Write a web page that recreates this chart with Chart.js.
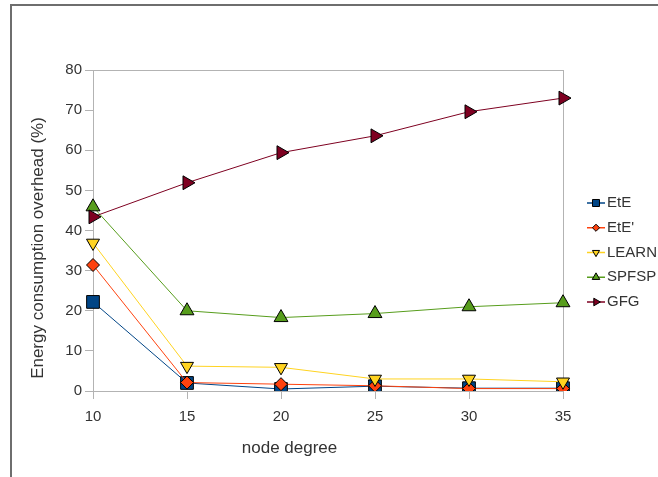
<!DOCTYPE html>
<html>
<head>
<meta charset="utf-8">
<script src="https://cdn.jsdelivr.net/npm/chart.js@4/dist/chart.umd.min.js"></script>
<style>
  body { margin: 0; background: #fff; }
  #wrap { position: relative; width: 658px; height: 477px; overflow: hidden; }
  #frame { position: absolute; left: 10px; top: 4px; width: 700px; height: 500px;
           border-left: 2px solid #6e6e6e; border-top: 2px solid #6e6e6e; }
  #chart { position: absolute; left: 0; top: 0; }
</style>
</head>
<body>
<div id="wrap">
  <div id="frame"></div>
  <canvas id="chart" width="658" height="477"></canvas>
</div>
<script>
// node degree on the x axis
const nodeDegree = ['10', '15', '20', '25', '30', '35']

// energy consumption overhead (%)
const ete      = [22.2, 2.0, 0.5, 1.2, 0.7, 0.7]
const etePrime = [31.4, 2.1, 1.7, 1.3, 0.6, 0.6]
const learn    = [36.9, 6.2, 5.9, 3.0, 3.0, 2.3]
const spfsp    = [45.9, 20.0, 18.3, 19.3, 21.0, 22.0]
const gfg      = [43.4, 51.9, 59.4, 63.6, 69.6, 73.0]

const seriesNames = ['EtE', "EtE'", 'LEARN', 'SPFSP', 'GFG']
const yTicks = [0, 10, 20, 30, 40, 50, 60, 70, 80]

const FONT = '"Liberation Sans", Arial, sans-serif'
const TEXT = '#333333'
const AXIS = '#b3b3b3'

const styles = [
  { color: '#004586', pointStyle: 'rect', rotation: 0, radius: 9 },
  { color: '#ff420e', pointStyle: 'rectRot', rotation: 0, radius: 6.5 },
  { color: '#ffd320', pointStyle: 'triangle', rotation: 180, radius: 7.5 },
  { color: '#579d1c', pointStyle: 'triangle', rotation: 0, radius: 8 },
  { color: '#7e0021', pointStyle: 'triangle', rotation: 90, radius: 8 },
]

const allSeries = [ete, etePrime, learn, spfsp, gfg]

const datasets = allSeries.map((values, i) => ({
  label: seriesNames[i],
  data: values,
  borderColor: styles[i].color,
  backgroundColor: styles[i].color,
  borderWidth: 1,
  pointStyle: styles[i].pointStyle,
  rotation: styles[i].rotation,
  pointRadius: styles[i].radius,
  pointHoverRadius: styles[i].radius,
  pointBorderColor: '#000',
  pointBorderWidth: 1,
  pointBackgroundColor: styles[i].color,
  tension: 0,
  order: allSeries.length - i, // later series drawn on top
}))

// gray box around the plot (top line at 80, right line at 35)
const plotBox = {
  id: 'plotBox',
  beforeDatasetsDraw(chart) {
    const { ctx, chartArea: a } = chart
    ctx.save()
    ctx.strokeStyle = AXIS
    ctx.lineWidth = 1
    ctx.beginPath()
    ctx.moveTo(a.left, Math.round(a.top) + 0.5)
    ctx.lineTo(a.right, Math.round(a.top) + 0.5)
    ctx.moveTo(Math.round(a.right) + 0.5, a.top)
    ctx.lineTo(Math.round(a.right) + 0.5, a.bottom)
    ctx.stroke()
    ctx.restore()
  }
}

// axis titles, placed where the original has them
const axisTitles = {
  id: 'axisTitles',
  afterDraw(chart) {
    const { ctx, chartArea: a } = chart
    ctx.save()
    ctx.fillStyle = TEXT
    ctx.font = '17px ' + FONT
    ctx.textAlign = 'center'
    ctx.textBaseline = 'middle'
    ctx.fillText('node degree', a.left + 196.5, a.bottom + 57)
    ctx.translate(a.left - 55, a.top + 178)
    ctx.rotate(-Math.PI / 2)
    ctx.fillText('Energy consumption overhead (%)', 0, 0)
    ctx.restore()
  }
}

// legend: short line with the marker in the middle, then the name
const lineLegend = {
  id: 'lineLegend',
  afterDraw(chart) {
    const { ctx, chartArea: a } = chart
    const x0 = a.right + 24
    ctx.save()
    ctx.font = '15px ' + FONT
    ctx.textBaseline = 'middle'
    ctx.textAlign = 'left'
    chart.data.datasets.forEach((ds, i) => {
      const y = 203 + i * 24.75
      ctx.strokeStyle = ds.borderColor
      ctx.lineWidth = 1.5
      ctx.beginPath()
      ctx.moveTo(x0, y)
      ctx.lineTo(x0 + 18, y)
      ctx.stroke()
      ctx.fillStyle = ds.backgroundColor
      ctx.strokeStyle = '#000'
      ctx.lineWidth = 1
      Chart.helpers.drawPoint(ctx, {
        pointStyle: ds.pointStyle,
        rotation: ds.rotation,
        radius: ds.pointRadius * 0.55,
        borderWidth: 1
      }, x0 + 9, y)
      ctx.fillStyle = TEXT
      ctx.fillText(ds.label, x0 + 20, y)
    })
    ctx.restore()
  }
}

new Chart(document.getElementById('chart'), {
  type: 'line',
  data: { labels: nodeDegree, datasets: datasets },
  plugins: [plotBox, axisTitles, lineLegend],
  options: {
    responsive: false,
    animation: false,
    events: [],
    layout: { padding: { top: 70, right: 95, left: 0, bottom: 0 } },
    plugins: {
      legend: { display: false },
      tooltip: { enabled: false },
      title: { display: false },
    },
    scales: {
      x: {
        offset: false,
        grid: { display: true, drawOnChartArea: false, drawTicks: true, tickLength: 8, color: AXIS },
        border: { display: true, color: AXIS, width: 1 },
        ticks: { color: TEXT, font: { family: FONT, size: 15 }, padding: 9, maxRotation: 0 },
        afterFit(scale) { scale.height = 86 },
      },
      y: {
        min: 0,
        max: 80,
        afterBuildTicks(scale) { scale.ticks = yTicks.map(v => ({ value: v })) },
        grid: { display: true, drawOnChartArea: false, drawTicks: true, tickLength: 8, color: AXIS },
        border: { display: true, color: AXIS, width: 1 },
        ticks: { color: TEXT, font: { family: FONT, size: 15 }, padding: 3 },
        afterFit(scale) { scale.width = 93 },
      }
    }
  }
})
</script>
</body>
</html>
